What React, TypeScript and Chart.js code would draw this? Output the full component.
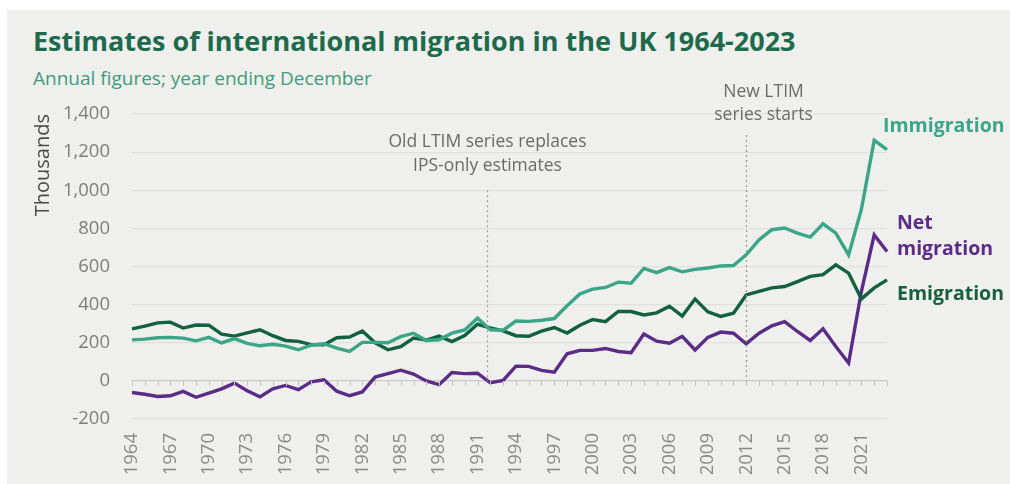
import React, { useEffect, useRef } from "react";
import { Chart, registerables } from "chart.js";

Chart.register(...registerables);

const years = [
  "1964","1965","1966","1967","1968","1969","1970","1971","1972","1973",
  "1974","1975","1976","1977","1978","1979","1980","1981","1982","1983",
  "1984","1985","1986","1987","1988","1989","1990","1991","1992","1993",
  "1994","1995","1996","1997","1998","1999","2000","2001","2002","2003",
  "2004","2005","2006","2007","2008","2009","2010","2011","2012","2013",
  "2014","2015","2016","2017","2018","2019","2020","2021","2022","2023",
];

const immigration = [
  215, 219, 226, 228, 224, 210, 228, 199, 222, 197,
  184, 192, 182, 163, 187, 195, 172, 155, 202, 202,
  200, 232, 250, 212, 216, 250, 267, 329, 268, 266,
  314, 312, 318, 327, 394, 456, 481, 490, 518, 512,
  590, 568, 594, 572, 585, 592, 603, 605, 661, 740,
  793, 802, 775, 754, 824, 775, 661, 900, 1262, 1213,
];

const emigration = [
  273, 287, 304, 308, 277, 293, 292, 245, 235, 252,
  268, 237, 212, 207, 190, 189, 226, 230, 262, 200,
  163, 180, 225, 214, 235, 206, 238, 297, 278, 262,
  237, 234, 261, 280, 251, 292, 322, 311, 364, 364,
  346, 357, 392, 340, 429, 362, 338, 355, 451, 469,
  488, 495, 521, 548, 557, 609, 565, 430, 488, 530,
];

const netMigration = [
  -61, -70, -82, -78, -55, -86, -64, -42, -12, -52,
  -84, -42, -24, -46, -5, 6, -54, -78, -58, 20,
  38, 56, 36, 0, -20, 44, 38, 40, -10, 2,
  77, 76, 55, 46, 142, 160, 160, 170, 154, 148,
  246, 208, 198, 234, 162, 228, 256, 250, 194, 250,
  289, 311, 259, 212, 273, 180, 94, 470, 766, 679,
];

const yMin = -200;
const yMax = 1400;
const yStep = 200;

const seriesNames = ["Immigration", "Emigration", "Net migration"];
const seriesColors = ["#3ba687", "#11603f", "#5b2c86"];
const labelColors = ["#3ba687", "#17603f", "#5b2c86"];

// annotation markers: year position, top value of dashed line, text lines
const markerYears = [1991.75, 2012];
const markerTops = [1000, 1290];
const markerTexts = [
  ["Old LTIM series replaces", "IPS-only estimates"],
  ["New LTIM", "series starts"],
];

const FONT = "'Open Sans', 'DejaVu Sans', sans-serif";

const overlayPlugin = {
  id: "overlay",
  afterDatasetsDraw(chart: any) {
    const { ctx, scales } = chart;
    const xs = scales.x;
    const ys = scales.y;
    const zeroY = ys.getPixelForValue(0);
    ctx.save();
    ctx.strokeStyle = "#c4c4c4";
    ctx.lineWidth = 1;
    for (let i = 0; i < years.length; i++) {
      const px = Math.round(xs.getPixelForValue(i)) + 0.5;
      ctx.beginPath();
      ctx.moveTo(px, zeroY);
      ctx.lineTo(px, zeroY + 5);
      ctx.stroke();
    }
    const textOffsets = [
      [-48, -24],
      [-43, -20],
    ];
    const textShift = [0, 17];
    for (let m = 0; m < markerYears.length; m++) {
      const px = Math.round(xs.getPixelForValue(markerYears[m] - Number(years[0]))) + 0.5;
      const top = ys.getPixelForValue(markerTops[m]);
      ctx.strokeStyle = "#9a9a9a";
      ctx.lineWidth = 1.2;
      ctx.setLineDash([2, 3]);
      ctx.beginPath();
      ctx.moveTo(px, top);
      ctx.lineTo(px, zeroY);
      ctx.stroke();
      ctx.setLineDash([]);
      ctx.fillStyle = "#6a6a6a";
      ctx.font = `17.5px ${FONT}`;
      ctx.textAlign = "center";
      ctx.textBaseline = "middle";
      markerTexts[m].forEach((t, k) => {
        ctx.fillText(t, px + textShift[m], top + textOffsets[m][k]);
      });
    }
    const labelSpecs = [
      { ds: 0, dx: -4, dys: [-23], lines: ["Immigration"] },
      { ds: 2, dx: 10, dys: [-28, -2], lines: ["Net", "migration"] },
      { ds: 1, dx: 10, dys: [15], lines: ["Emigration"] },
    ];
    ctx.font = `bold 19.5px ${FONT}`;
    ctx.textAlign = "left";
    ctx.textBaseline = "middle";
    labelSpecs.forEach((s) => {
      const meta = chart.getDatasetMeta(s.ds);
      const pt = meta.data[meta.data.length - 1];
      ctx.fillStyle = labelColors[s.ds];
      s.lines.forEach((t, k) => ctx.fillText(t, pt.x + s.dx, pt.y + s.dys[k]));
    });
    ctx.restore();
  },
};

export default function App() {
  const ref = useRef<HTMLCanvasElement | null>(null);

  useEffect(() => {
    if (!ref.current) return;
    const chart = new Chart(ref.current, {
      type: "line",
      data: {
        labels: years,
        datasets: [immigration, emigration, netMigration].map((d, i) => ({
          label: seriesNames[i],
          data: d,
          borderColor: seriesColors[i],
          backgroundColor: seriesColors[i],
          borderWidth: 3.4,
          pointRadius: 0,
          tension: 0,
          fill: false,
        })),
      },
      options: {
        responsive: false,
        animation: false,
        layout: { padding: { left: 0, right: 123, top: 114, bottom: 0 } },
        plugins: {
          legend: { display: false },
          tooltip: { enabled: false },
          title: { display: false },
        },
        scales: {
          x: {
            type: "category",
            offset: false,
            grid: { display: false, drawTicks: false },
            border: { display: false },
            ticks: {
              autoSkip: false,
              maxRotation: 90,
              minRotation: 90,
              padding: 14,
              color: "#8a8a8a",
              font: { family: FONT, size: 18.5 },
              callback: (_v: any, i: number) => (i % 3 === 0 ? years[i] : null),
            },
            afterFit: (s: any) => {
              s.height = 65;
            },
          },
          y: {
            min: yMin,
            max: yMax,
            grid: {
              drawTicks: false,
              color: (c: any) => (c.tick && c.tick.value === 0 ? "#c9c9c9" : "#e0e0de"),
              lineWidth: 1.2,
            },
            border: { display: false },
            ticks: {
              stepSize: yStep,
              padding: 22,
              color: "#7d7d7d",
              font: { family: FONT, size: 18.5 },
              callback: (v: any) => Number(v).toLocaleString("en-GB"),
            },
            title: {
              display: true,
              text: "Thousands",
              align: "end",
              color: "#4a4a4a",
              font: { family: FONT, size: 20 },
              padding: { top: 31, bottom: 0 },
            },
            afterFit: (s: any) => {
              s.width = 132;
            },
          },
        },
      },
      plugins: [overlayPlugin],
    });
    return () => chart.destroy();
  }, []);

  return (
    <div style={{ position: "absolute", left: 0, top: 0, width: 1010, height: 484, background: "#ffffff", overflow: "hidden" }}>
      <div style={{ position: "absolute", left: 7, top: 10, right: 0, bottom: 0, background: "#efefed" }} />
      <div
        style={{
          position: "absolute",
          left: 33,
          top: 24,
          fontFamily: "'Open Sans', sans-serif",
          fontWeight: 700,
          fontSize: 27,
          color: "#1d6a4c",
          whiteSpace: "nowrap",
          lineHeight: "34px",
        }}
      >
        Estimates of international migration in the UK 1964-2023
      </div>
      <div
        style={{
          position: "absolute",
          left: 33,
          top: 66,
          fontFamily: "'Open Sans', sans-serif",
          fontSize: 19,
          color: "#3f9c7c",
          whiteSpace: "nowrap",
          lineHeight: "24px",
        }}
      >
        Annual figures; year ending December
      </div>
      <canvas ref={ref} width={1010} height={484} style={{ position: "absolute", left: 0, top: 0 }} />
    </div>
  );
}
